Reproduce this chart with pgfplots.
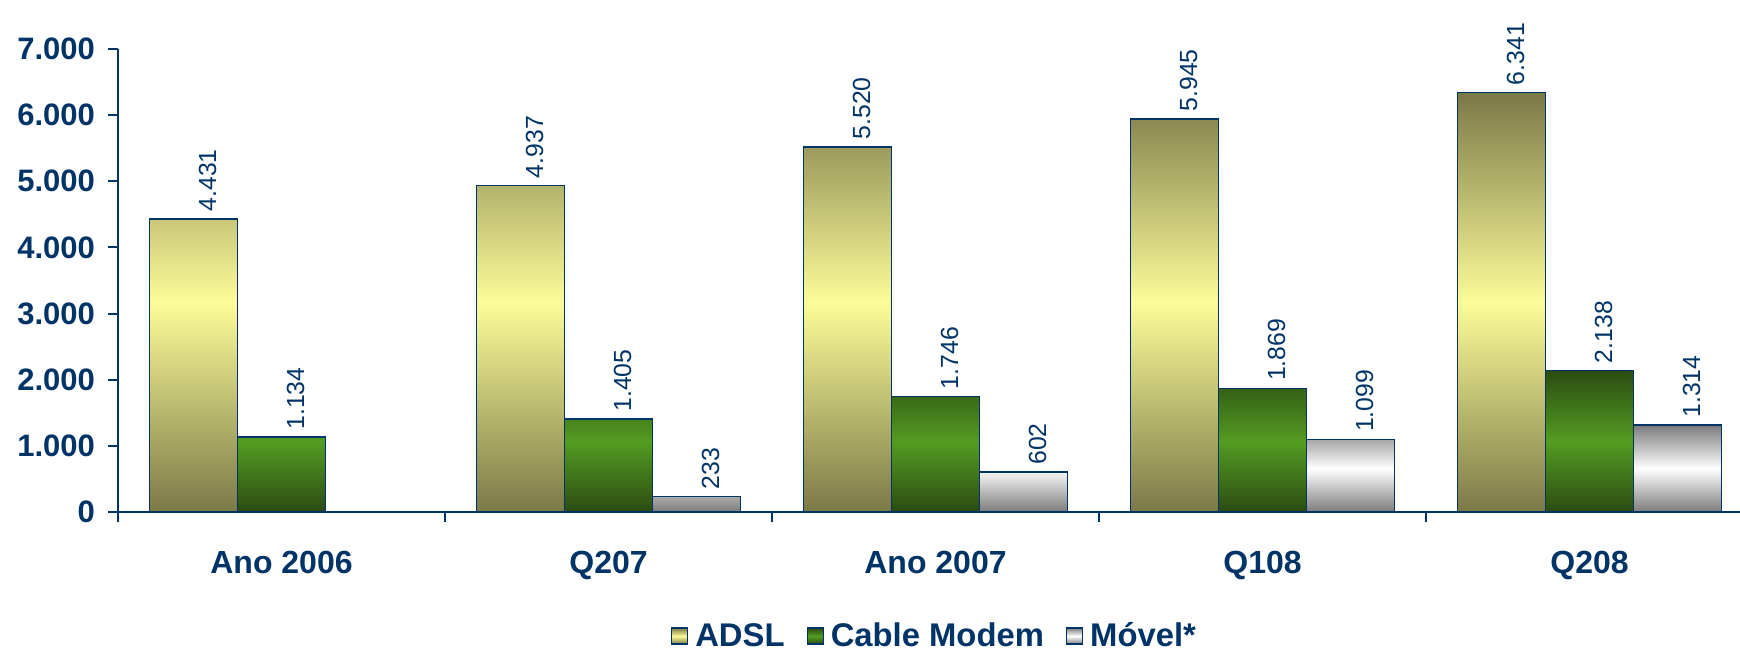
\documentclass[border=0pt]{standalone}
\usepackage{fontspec}
\setmainfont{Liberation Sans}
\usepackage{pgfplots}
\pgfplotsset{compat=1.18}
\definecolor{navy}{HTML}{003366}
\definecolor{adsldark}{HTML}{7A7948}
\definecolor{adsllight}{HTML}{FCFC99}
\definecolor{cabledark}{HTML}{2B4B12}
\definecolor{cablelight}{HTML}{549C22}
\definecolor{movdark}{HTML}{7C7C7C}
\definecolor{movlight}{HTML}{FFFFFF}
\pgfplotsset{sq legend/.style={legend image code/.code={\draw[##1,draw=navy,line width=0.6pt] (0pt,-4pt) rectangle (8pt,4pt);}}}
\begin{document}
\begin{tikzpicture}
\begin{axis}[
  scale only axis, width=817.5pt, height=231.5pt,
  xmin=-0.5, xmax=4.5, ymin=0, ymax=7000,
  ybar=0pt, bar width=0.269,
  axis x line*=bottom, axis y line*=left,
  axis line style={navy, line width=1pt, -},
  tick align=outside,
  major tick length=5pt,
  tick style={navy, line width=1pt},
  xtick={-0.5,0.5,1.5,2.5,3.5,4.5}, xticklabels={},
  extra x ticks={0,1,2,3,4},
  extra x tick labels={Ano 2006,Q207,Ano 2007,Q108,Q208},
  extra x tick style={major tick length=0pt, tick label style={font=\bfseries\fontsize{16}{16}\selectfont, text=navy, yshift=-16pt}},
  ytick={0,1000,...,7000},
  scaled y ticks=false,
  yticklabel style={font=\bfseries\fontsize{15.5}{15.5}\selectfont, text=navy, xshift=-3pt},
  /pgf/number format/1000 sep={.},
  /pgf/number format/assume math mode=true,
  nodes near coords,
  every node near coord/.append style={font=\fontsize{12.4}{12.4}\selectfont, text=navy, xshift=7pt, rotate=90, anchor=west},
  legend columns=3,
  legend style={draw=none, fill=none, at={(0.5,-0.268)}, anchor=center,
    font=\bfseries\fontsize{16.4}{16.4}\selectfont, text=navy,
    /tikz/every even column/.append style={column sep=9pt},
    /tikz/every odd column/.append style={column sep=1.5pt}},
]
\addplot[draw=navy, line width=0.8pt, top color=adsldark, bottom color=adsldark, middle color=adsllight, sq legend]
  coordinates {(0,4431) (1,4937) (2,5520) (3,5945) (4,6341)};
\addplot[draw=navy, line width=0.8pt, top color=cabledark, bottom color=cabledark, middle color=cablelight, sq legend]
  coordinates {(0,1134) (1,1405) (2,1746) (3,1869) (4,2138)};
\addplot[draw=navy, line width=0.8pt, top color=movdark, bottom color=movdark, middle color=movlight, sq legend]
  coordinates {(1,233) (2,602) (3,1099) (4,1314)};
\legend{ADSL, Cable Modem, Móvel*}
\end{axis}
\pgfresetboundingbox
\path[use as bounding box] (-59pt,-69pt) rectangle (811pt,256pt);
\end{tikzpicture}
\end{document}
